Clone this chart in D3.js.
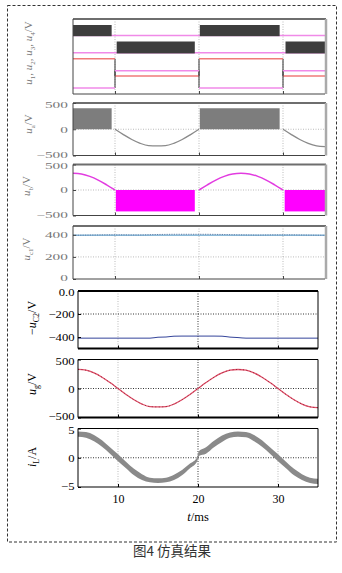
<!DOCTYPE html>
<html>
<head>
<meta charset="utf-8">
<script src="https://cdn.jsdelivr.net/npm/d3@7"></script>
<style>
body { margin: 0; background: #fff; }
</style>
</head>
<body>
<svg id="chart" width="342" height="573"></svg>
<script>
// time axis (ms) and tick values
const timeMs = [5,6,7,8,9,10,11,12,13,14,15,16,17,18,19,20,21,22,23,24,25,26,27,28,29,30,31,32,33,34,35];
const xTicks = [10, 20, 30];

// grid voltage u_g (V)
const ugValues = [330,315,268,195,102,0,-102,-195,-268,-312,-318,-312,-268,-195,-102,0,102,195,268,315,328,315,268,195,102,0,-102,-195,-268,-315,-330];

// capacitor voltages (V)
const uc1Values = [396,397,398,399,400,400,400,399,399,401,403,404,405,405,405,405,405,404,403,401,400,399,398,399,400,400,400,399,398,397,396];
const uc2Values = [-410,-410,-410,-410,-410,-410,-410,-410,-410,-410,-402,-400,-393,-392,-392,-392,-392,-392,-393,-401,-405,-410,-410,-410,-410,-410,-410,-410,-410,-410,-410];

// inductor current band (A)
const iLTime = [5,6,7,8,9,10,11,12,13,14,15,16,17,18,19,19.9,20.1,21,22,23,24,25,26,27,28,29,30,31,32,33,34,35];
const iLUpper = [4.5,4.4,3.9,3.0,1.8,0.6,-0.7,-1.9,-2.8,-3.4,-3.5,-3.4,-2.9,-2.1,-1.0,0.1,1.1,1.8,2.9,3.8,4.3,4.5,4.4,3.9,3.0,1.8,0.6,-0.7,-1.9,-2.8,-3.4,-3.6];
const iLLower = [3.6,3.4,2.8,1.9,0.7,-0.6,-1.8,-3.0,-3.8,-4.2,-4.3,-4.2,-3.8,-3.0,-1.8,-0.6,0.3,0.7,1.8,2.7,3.4,3.6,3.5,2.8,1.9,0.7,-0.6,-1.8,-3.0,-3.8,-4.3,-4.5];

// PWM pulse intervals (ms) and levels
const uaPulses = [[5, 9.6], [20.1, 29.6]];
const uaLevel = 400;
const ubPulses = [[10.1, 19.5], [30.2, 35]];
const ubLevel = -420;

// gate signals: S1/S2 pulse blocks, S3/S4 half-cycle steps
const s1Blocks = [[5, 9.6], [20.1, 29.6]];
const s2Blocks = [[10.2, 19.5], [30.3, 35]];
const halfEdges = [5, 10, 20, 30, 35];
const s3States = [1, 0, 1, 0];
const s4States = [0, 1, 0, 1];
const gateLow = [7.8, 5.5, 2.4, 0.8];
const gateHigh = [9.2, 7.0, 4.7, 3.1];

const svg = d3.select("#chart");
const serif = "'Liberation Serif','Times New Roman',serif";
let clipCount = 0;

// outer dashed frame
svg.append("rect")
    .attr("x", 7.5).attr("y", 5.5)
    .attr("width", 329).attr("height", 536.5)
    .attr("fill", "none").attr("stroke", "#333")
    .attr("stroke-dasharray", "3,2");

const xTop = d3.scaleLinear().domain([5, 35]).range([73, 325]);
const xBot = d3.scaleLinear().domain([5, 35]).range([78, 318]);

function addPanel(x, y, opts) {
    const g = svg.append("g");
    const [x0, x1] = x.range();
    const [yb, yt] = y.range();
    const id = "clip" + (clipCount++);
    g.append("clipPath").attr("id", id)
        .append("rect").attr("x", x0).attr("y", yt).attr("width", x1 - x0).attr("height", yb - yt);

    g.selectAll(".vgrid").data(xTicks).enter().append("line")
        .attr("x1", d => x(d)).attr("x2", d => x(d))
        .attr("y1", yt).attr("y2", yb)
        .attr("stroke", d => (opts.dark && d === 20) ? "#000" : "#aaa")
        .attr("stroke-width", 0.8)
        .attr("stroke-dasharray", "1,1.5");

    g.selectAll(".hgrid").data(opts.hGrid || []).enter().append("line")
        .attr("x1", x0).attr("x2", x1)
        .attr("y1", d => y(d)).attr("y2", d => y(d))
        .attr("stroke", opts.dark ? "#000" : "#aaa")
        .attr("stroke-width", 0.8)
        .attr("stroke-dasharray", "1,1.5");

    const plot = g.append("g").attr("clip-path", `url(#${id})`);
    return { g, plot, x, y, opts };
}

function finishPanel(p) {
    const { g, x, y, opts } = p;
    const [x0, x1] = x.range();
    const [yb, yt] = y.range();
    const textColor = opts.dark ? "#000" : "#777";

    // frame
    if (opts.dark) {
        g.append("line").attr("x1", x0).attr("x2", x1).attr("y1", yt).attr("y2", yt)
            .attr("stroke", "#000").attr("stroke-width", opts.topW || 1);
        g.append("line").attr("x1", x0).attr("x2", x1).attr("y1", yb).attr("y2", yb)
            .attr("stroke", "#000").attr("stroke-width", opts.bottomW || 1);
        g.append("line").attr("x1", x0).attr("x2", x0).attr("y1", yt).attr("y2", yb)
            .attr("stroke", "#000").attr("stroke-width", 1);
        g.append("line").attr("x1", x1).attr("x2", x1).attr("y1", yt).attr("y2", yb)
            .attr("stroke", "#000").attr("stroke-width", 1);
    } else {
        g.append("line").attr("x1", x0).attr("x2", x1 + 1).attr("y1", yt).attr("y2", yt)
            .attr("stroke", "#6e6e6e").attr("stroke-width", 2);
        g.append("line").attr("x1", x1 + 1).attr("x2", x1 + 1).attr("y1", yt).attr("y2", yb)
            .attr("stroke", "#aaa").attr("stroke-width", 2.5);
        g.append("line").attr("x1", x0).attr("x2", x1).attr("y1", yb).attr("y2", yb)
            .attr("stroke", "#444").attr("stroke-width", 1);
        g.append("line").attr("x1", x0).attr("x2", x0).attr("y1", yt).attr("y2", yb)
            .attr("stroke", "#444").attr("stroke-width", 1);
    }

    // bottom ticks
    const bx = g.append("g").attr("transform", `translate(0,${yb})`)
        .call(d3.axisBottom(x).tickValues(xTicks).tickSize(-3).tickPadding(7)
            .tickFormat(opts.xLabels ? d3.format("d") : ""));
    bx.select(".domain").remove();
    bx.selectAll("line").attr("stroke", opts.dark ? "#000" : "#444");
    bx.selectAll("text").attr("font-family", serif).attr("font-size", 12).attr("fill", "#000");

    // left ticks
    if (opts.yTicks) {
        const [lo, hi] = d3.extent(opts.yTicks);
        const sx = opts.dark ? 1.15 : 1.7;
        const ly = g.append("g").attr("transform", `translate(${x0},0)`)
            .call(d3.axisLeft(y).tickValues(opts.yTicks).tickSize(-3).tickPadding(3)
                .tickFormat(opts.yFormat || (d => d3.format("d")(d))));
        ly.select(".domain").remove();
        ly.selectAll("line").attr("stroke", opts.dark ? "#000" : "#444");
        ly.selectAll("text")
            .attr("font-family", serif)
            .attr("font-size", opts.dark ? 11 : 9)
            .attr("fill", textColor)
            .attr("transform", d => {
                // keep neighbouring end labels of stacked panels apart
                const dy = d === hi && d === y.domain()[1] ? 1.2 : (d === lo && d === y.domain()[0] ? -1.2 : 0);
                return `translate(0,${dy}) scale(${sx},1)`;
            });
    }

    // rotated axis title
    if (opts.title) {
        const t = svg.append("text")
            .attr("transform", `translate(${opts.title.x},${opts.title.y}) rotate(-90)`)
            .attr("text-anchor", "middle")
            .attr("font-family", serif)
            .attr("font-size", opts.dark ? 12 : 11)
            .attr("fill", textColor);
        opts.title.parts.forEach(part => {
            const ts = t.append("tspan").text(part.s);
            if (part.it) ts.attr("font-style", "italic");
            if (part.sub) ts.attr("font-size", opts.dark ? 8 : 7).attr("dy", 2.5);
            if (part.up) ts.attr("dy", -2.5);
        });
    }
}

const lineGen = (x, y) => d3.line().x(d => x(d[0])).y(d => y(d[1])).curve(d3.curveMonotoneX);
const ugPoints = timeMs.map((t, i) => [t, ugValues[i]]);
const inRanges = (t, ranges) => ranges.some(r => t >= r[0] && t <= r[1]);

// ---- panel 1: gate signals
{
    const y = d3.scaleLinear().domain([0, 10]).range([94, 19]);
    const p = addPanel(xTop, y, {});
    const x = xTop;
    [s1Blocks, s2Blocks].forEach((blocks, k) => {
        p.plot.append("line")
            .attr("x1", x(5)).attr("x2", x(35))
            .attr("y1", y(gateLow[k])).attr("y2", y(gateLow[k]))
            .attr("stroke", "#f08ae8").attr("stroke-width", 1.3);
        p.plot.selectAll(null).data(blocks).enter().append("rect")
            .attr("x", d => x(d[0])).attr("width", d => x(d[1]) - x(d[0]))
            .attr("y", y(gateHigh[k])).attr("height", y(gateLow[k]) - y(gateHigh[k]) + 0.7)
            .attr("fill", "#3d3d3d");
    });
    [[s3States, "#f07a78", 2], [s4States, "#f08ae8", 3]].forEach(([states, color, k]) => {
        const lvl = s => s ? gateHigh[k] : gateLow[k];
        // vertical edges
        halfEdges.slice(1, -1).forEach((e, i) => {
            p.plot.append("line")
                .attr("x1", x(e)).attr("x2", x(e))
                .attr("y1", y(lvl(states[i]))).attr("y2", y(lvl(states[i + 1])))
                .attr("stroke", "#333").attr("stroke-width", 1);
        });
        states.forEach((s, i) => {
            p.plot.append("line")
                .attr("x1", x(halfEdges[i])).attr("x2", x(halfEdges[i + 1]))
                .attr("y1", y(lvl(s))).attr("y2", y(lvl(s)))
                .attr("stroke", color).attr("stroke-width", 1.3);
        });
    });
    p.opts.title = { x: 32, y: 53, parts: [
        { s: "u", it: true }, { s: "1", sub: true }, { s: ", ", up: true },
        { s: "u", it: true }, { s: "2", sub: true }, { s: ", ", up: true },
        { s: "u", it: true }, { s: "3", sub: true }, { s: ", ", up: true },
        { s: "u", it: true }, { s: "4", sub: true }, { s: "/V", up: true }] };
    finishPanel(p);
}

// ---- panel 2: u_a
{
    const y = d3.scaleLinear().domain([-500, 500]).range([155.5, 103]);
    const p = addPanel(xTop, y, { hGrid: [0], yTicks: [-500, 0, 500],
        title: { x: 32, y: 124, parts: [{ s: "u", it: true }, { s: "a", sub: true }, { s: "/V", up: true }] } });
    p.plot.selectAll(null).data(uaPulses).enter().append("rect")
        .attr("x", d => xTop(d[0])).attr("width", d => xTop(d[1]) - xTop(d[0]))
        .attr("y", y(uaLevel)).attr("height", y(0) - y(uaLevel))
        .attr("fill", "#7d7d7d");
    [[10, 20], [30, 35]].forEach(r => {
        p.plot.append("path")
            .datum(ugPoints.filter(d => inRanges(d[0], [r])))
            .attr("d", lineGen(xTop, y))
            .attr("fill", "none").attr("stroke", "#8a8a8a").attr("stroke-width", 1.3);
    });
    finishPanel(p);
}

// ---- panel 3: u_b
{
    const y = d3.scaleLinear().domain([-500, 500]).range([215.5, 164.5]);
    const p = addPanel(xTop, y, { hGrid: [0], yTicks: [-500, 0, 500],
        title: { x: 30, y: 186, parts: [{ s: "u", it: true }, { s: "b", sub: true }, { s: "/V", up: true }] } });
    p.plot.selectAll(null).data(ubPulses).enter().append("rect")
        .attr("x", d => xTop(d[0])).attr("width", d => xTop(d[1]) - xTop(d[0]))
        .attr("y", y(0)).attr("height", y(ubLevel) - y(0))
        .attr("fill", "#ff00ff");
    [[5, 10], [20, 30]].forEach(r => {
        p.plot.append("path")
            .datum(ugPoints.filter(d => inRanges(d[0], [r])))
            .attr("d", lineGen(xTop, y))
            .attr("fill", "none").attr("stroke", "#e23ce0").attr("stroke-width", 1.5);
    });
    finishPanel(p);
}

// ---- panel 4: u_c1
{
    const y = d3.scaleLinear().domain([0, 480]).range([279, 226]);
    const p = addPanel(xTop, y, { hGrid: [200], yTicks: [0, 200, 400],
        title: { x: 30, y: 249, parts: [{ s: "u", it: true }, { s: "c1", sub: true }, { s: "/V", up: true }] } });
    const pts = timeMs.map((t, i) => [t, uc1Values[i]]);
    p.plot.append("path").datum(pts.map(d => [d[0], 396]))
        .attr("d", lineGen(xTop, y))
        .attr("fill", "none").attr("stroke", "#8cbbd9").attr("stroke-width", 1.4);
    p.plot.append("path").datum(pts)
        .attr("d", lineGen(xTop, y))
        .attr("fill", "none").attr("stroke", "#4a6a9a").attr("stroke-width", 0.8)
        .attr("stroke-dasharray", "1.2,1.2");
    finishPanel(p);
}

// ---- panel 5: -u_c2
{
    const y = d3.scaleLinear().domain([-500, 0]).range([348.5, 291]);
    const p = addPanel(xBot, y, { dark: true, hGrid: [-200], yTicks: [-400, -200, 0], topW: 2, bottomW: 2.2,
        yFormat: d => d === 0 ? "0.0" : d3.format("d")(d),
        title: { x: 36, y: 318, parts: [{ s: "−" }, { s: "u", it: true }, { s: "C2", sub: true }, { s: "/V", up: true }] } });
    p.plot.append("path").datum(timeMs.map((t, i) => [t, uc2Values[i]]))
        .attr("d", lineGen(xBot, y))
        .attr("fill", "none").attr("stroke", "#34449a").attr("stroke-width", 1);
    finishPanel(p);
}

// ---- panel 6: u_g
{
    const y = d3.scaleLinear().domain([-500, 500]).range([417.5, 359.5]);
    const p = addPanel(xBot, y, { dark: true, hGrid: [0], yTicks: [-500, 0, 500], topW: 1.2, bottomW: 2.2,
        title: { x: 36, y: 384, parts: [{ s: "u", it: true }, { s: "g", sub: true }, { s: "/V", up: true }] } });
    p.plot.append("path").datum(ugPoints)
        .attr("d", lineGen(xBot, y))
        .attr("fill", "none").attr("stroke", "#e0506a").attr("stroke-width", 1.3);
    p.plot.append("path").datum(ugPoints)
        .attr("d", lineGen(xBot, y))
        .attr("fill", "none").attr("stroke", "#7a1020").attr("stroke-width", 0.7)
        .attr("stroke-dasharray", "1,2.5");
    finishPanel(p);
}

// ---- panel 7: i_L
{
    const y = d3.scaleLinear().domain([-5, 5]).range([487, 428.5]);
    const p = addPanel(xBot, y, { dark: true, hGrid: [0], yTicks: [-5, 0, 5], topW: 1.2, bottomW: 1.2, xLabels: true,
        title: { x: 36, y: 457, parts: [{ s: "i", it: true }, { s: "L", sub: true }, { s: "/A", up: true }] } });
    const area = d3.area()
        .x((d, i) => xBot(iLTime[i]))
        .y0((d, i) => y(iLLower[i]))
        .y1((d, i) => y(iLUpper[i]))
        .curve(d3.curveMonotoneX);
    p.plot.append("path").datum(iLTime)
        .attr("d", area)
        .attr("fill", "#8a8a8a");
    finishPanel(p);
}

// x axis title
const xt = svg.append("text")
    .attr("x", 198).attr("y", 521)
    .attr("text-anchor", "middle")
    .attr("font-family", serif).attr("font-size", 12.5);
xt.append("tspan").attr("font-style", "italic").text("t");
xt.append("tspan").text("/ms");

// caption
svg.append("text")
    .attr("x", 172).attr("y", 556)
    .attr("text-anchor", "middle")
    .attr("font-family", "'Noto Sans CJK SC', sans-serif")
    .attr("font-size", 13.5)
    .attr("fill", "#333")
    .text("图4 仿真结果");
</script>
</body>
</html>
